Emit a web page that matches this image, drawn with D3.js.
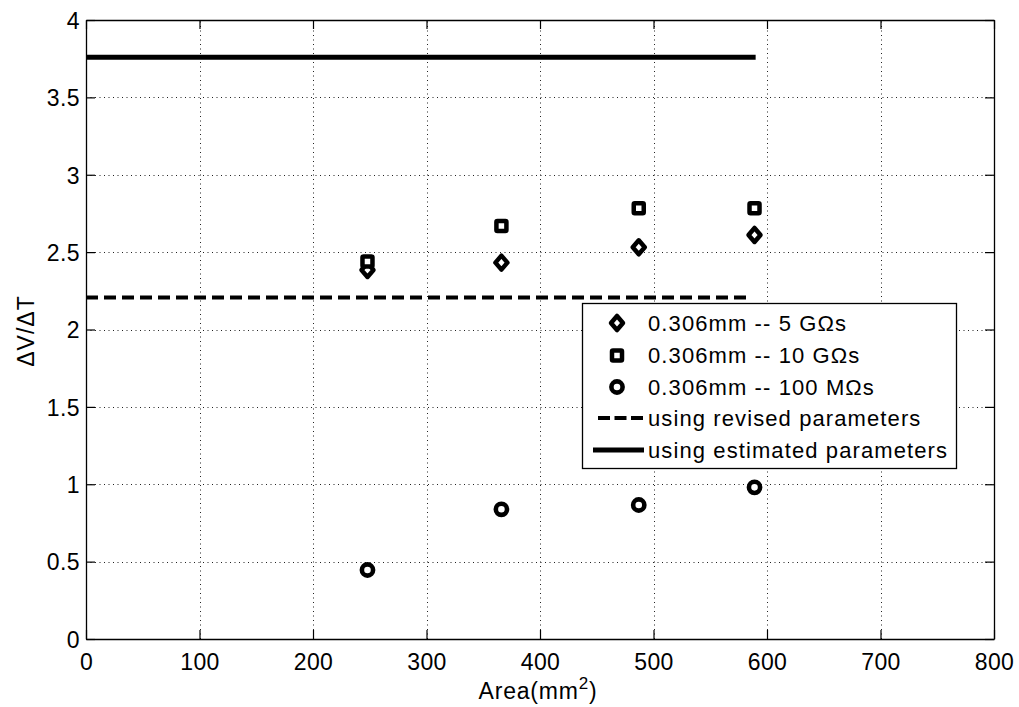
<!DOCTYPE html>
<html>
<head>
<meta charset="utf-8">
<script src="https://cdn.jsdelivr.net/npm/d3@7"></script>
<style>
  body { margin: 0; background: #fff; }
  svg { display: block; }
  text { font-family: "Liberation Sans", Arial, sans-serif; fill: #000; }
</style>
</head>
<body>
<svg id="chart" width="1019" height="707"></svg>
<script>
// Measured sensitivity (ΔV/ΔT) against sensor area
const areas = [248, 366, 487, 589];
const fiveGOhm = [2.385, 2.432, 2.531, 2.611];
const tenGOhm = [2.44, 2.669, 2.783, 2.783];
const hundredMOhm = [0.446, 0.838, 0.866, 0.98];

// Model predictions (horizontal reference lines)
const revisedRange = [0, 585];
const revisedValue = 2.206;
const estimatedRange = [0, 590];
const estimatedValue = 3.759;

const xTicks = [0, 100, 200, 300, 400, 500, 600, 700, 800];
const yTicks = [0, 0.5, 1, 1.5, 2, 2.5, 3, 3.5, 4];

const legendLabels = [
  "0.306mm -- 5 G\u03A9s",
  "0.306mm -- 10 G\u03A9s",
  "0.306mm -- 100 M\u03A9s",
  "using revised parameters",
  "using estimated parameters"
];

const margin = { left: 86, right: 25, top: 20, bottom: 68 };
const W = 1019, H = 707;
const svg = d3.select("#chart");

const x = d3.scaleLinear().domain([0, 800]).range([margin.left, W - margin.right]);
const y = d3.scaleLinear().domain([0, 4]).range([H - margin.bottom, margin.top]);

const x0 = x.range()[0], x1 = x.range()[1];
const y0 = y.range()[0], y1 = y.range()[1];

// dotted grid
const grid = svg.append("g").attr("stroke", "#222").attr("stroke-width", 1)
  .attr("stroke-dasharray", "1,3.5");
grid.selectAll(".gx").data(xTicks.slice(1, -1)).enter().append("line")
  .attr("x1", d => Math.round(x(d)) + 0.5).attr("x2", d => Math.round(x(d)) + 0.5)
  .attr("y1", y0).attr("y2", y1);
grid.selectAll(".gy").data(yTicks.slice(1, -1)).enter().append("line")
  .attr("y1", d => Math.round(y(d)) + 0.5).attr("y2", d => Math.round(y(d)) + 0.5)
  .attr("x1", x0).attr("x2", x1);

// axes with inward ticks, and mirrored ticks on top/right
const tickFont = "23px";
const xAxis = d3.axisBottom(x).tickValues(xTicks).tickSizeInner(-9).tickSizeOuter(0).tickPadding(15)
  .tickFormat(d3.format("d"));
const yAxis = d3.axisLeft(y).tickValues(yTicks).tickSizeInner(-9).tickSizeOuter(0).tickPadding(6)
  .tickFormat(d => String(d));
const gx = svg.append("g").attr("transform", `translate(0,${y0})`).call(xAxis);
const gy = svg.append("g").attr("transform", `translate(${x0},0)`).call(yAxis);
const gxt = svg.append("g").attr("transform", `translate(0,${y1})`)
  .call(d3.axisTop(x).tickValues(xTicks).tickSizeInner(-9).tickSizeOuter(0).tickFormat(""));
const gyr = svg.append("g").attr("transform", `translate(${x1},0)`)
  .call(d3.axisRight(y).tickValues(yTicks).tickSizeInner(-9).tickSizeOuter(0).tickFormat(""));
[gx, gy, gxt, gyr].forEach(g => {
  g.select(".domain").attr("stroke", "#000").attr("stroke-width", 1.3);
  g.selectAll(".tick line").attr("stroke", "#000").attr("stroke-width", 1.2);
  g.selectAll(".tick text").attr("font-size", tickFont)
    .attr("font-family", "Liberation Sans, Arial, sans-serif").attr("fill", "#000")
    .style("letter-spacing", "0.4px");
});
gy.selectAll(".tick text").attr("dy", "0.36em");

// axis titles
svg.append("text").attr("x", 538).attr("y", 699).attr("text-anchor", "middle")
  .attr("font-size", "23px").style("letter-spacing", "0.8px")
  .html('Area(mm<tspan dy="-10" font-size="17px">2</tspan><tspan dy="10">)</tspan>');
svg.append("text").attr("transform", `translate(34,331) rotate(-90)`)
  .attr("text-anchor", "middle").attr("font-size", "23px").style("letter-spacing", "1px")
  .text("\u0394V/\u0394T");

// reference lines
const line = d3.line().x(d => x(d[0])).y(d => y(d[1]));
svg.append("path").datum(revisedRange.map(a => [a, revisedValue]))
  .attr("d", line).attr("stroke", "#000").attr("stroke-width", 4)
  .attr("stroke-dasharray", "12,6").attr("fill", "none");
svg.append("path").datum(estimatedRange.map(a => [a, estimatedValue]))
  .attr("d", line).attr("stroke", "#000").attr("stroke-width", 5).attr("fill", "none");

// marker shapes
function diamond(g) {
  g.append("path").attr("d", "M0,-7 L6,0 L0,7 L-6,0 Z")
    .attr("fill", "#fff").attr("stroke", "#000").attr("stroke-width", 4.5).attr("stroke-linejoin", "round");
}
function square(g) {
  g.append("rect").attr("x", -5).attr("y", -5).attr("width", 10).attr("height", 10)
    .attr("fill", "#fff").attr("stroke", "#000").attr("stroke-width", 4.5).attr("rx", 1);
}
function circle(g) {
  g.append("circle").attr("r", 5.6)
    .attr("fill", "#fff").attr("stroke", "#000").attr("stroke-width", 4.6);
}

function scatter(vals, shape) {
  const g = svg.append("g");
  areas.forEach((a, i) => {
    const m = g.append("g").attr("transform", `translate(${x(a)},${y(vals[i])})`);
    shape(m);
  });
}
scatter(fiveGOhm, diamond);
scatter(tenGOhm, square);
scatter(hundredMOhm, circle);

// legend
const lg = svg.append("g").attr("transform", "translate(582,303)");
lg.append("rect").attr("x", 0.5).attr("y", 0.5).attr("width", 374).attr("height", 165)
  .attr("fill", "#fff").attr("stroke", "#000").attr("stroke-width", 1.3);
const rowY = [20, 52.5, 84, 115, 147];
legendLabels.forEach((lab, i) => {
  const ry = rowY[i];
  const mg = lg.append("g").attr("transform", `translate(35,${ry})`);
  if (i === 0) diamond(mg);
  if (i === 1) square(mg);
  if (i === 2) circle(mg);
  if (i === 3) lg.append("line").attr("x1", 16).attr("x2", 61).attr("y1", ry).attr("y2", ry)
    .attr("stroke", "#000").attr("stroke-width", 4).attr("stroke-dasharray", "12,4.5");
  if (i === 4) lg.append("line").attr("x1", 11).attr("x2", 62).attr("y1", ry).attr("y2", ry)
    .attr("stroke", "#000").attr("stroke-width", 5);
  lg.append("text").attr("x", 66).attr("y", ry).attr("dy", "0.36em")
    .attr("font-size", "22px").style("letter-spacing", "1.1px").text(lab);
});
</script>
</body>
</html>
